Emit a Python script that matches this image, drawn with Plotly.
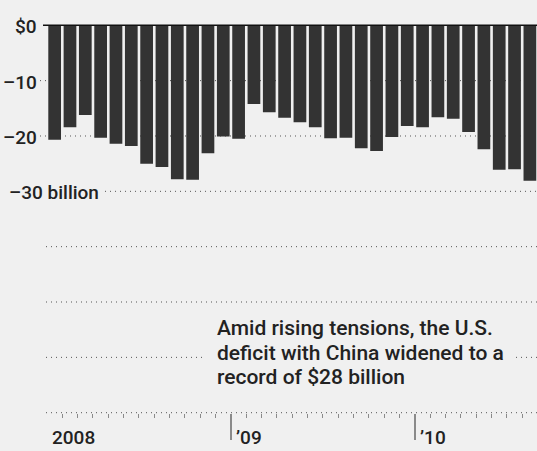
import plotly.graph_objects as go

# ---- data ----
months = [f"{m} {y}" for y in (2008, 2009, 2010) for m in
          ["Jan", "Feb", "Mar", "Apr", "May", "Jun", "Jul", "Aug", "Sep", "Oct", "Nov", "Dec"]][:32]
deficit = [-20.7, -18.4, -16.2, -20.3, -21.4, -21.8, -25.0, -25.6, -27.8, -27.9, -23.1, -20.1,
           -20.5, -14.2, -15.7, -16.7, -17.5, -18.4, -20.4, -20.3, -22.2, -22.7, -20.2, -18.2,
           -18.4, -16.6, -16.9, -19.3, -22.4, -26.1, -26.0, -28.1]
y_tick_vals = [0, -10, -20]
y_tick_labels = ["$0", "–10", "–20"]
y_last_val = -30
y_last_label = "–30 billion"
grid_levels = [-10, -20, -30, -40, -50, -60]
year_labels = ["2008", "’09", "’10"]
year_start_idx = [0, 12, 24]
note_lines = ["Amid rising tensions, the U.S.",
              "deficit with China widened to a",
              "record of $28 billion"]

# ---- layout geometry (pixels) ----
W, H = 537, 451
Y0_PX, Y70_PX = 25.7, 412.3
u = (Y70_PX - Y0_PX) / 70.0
YMIN, YMAX = -71.5, 1.5
top_m = Y0_PX - YMAX * u
bot_m = H - (Y70_PX + (-70 - YMIN) * u)
plot_h = H - top_m - bot_m
PITCH = 15.33
FIRST_C = 54.65
XR0 = -FIRST_C / PITCH
XR1 = XR0 + W / PITCH

BG = "#f0f0f0"
INK = "#222222"
FONT = "Roboto"

def px(x):
    return x / W

def py(ypx):
    return (H - bot_m - ypx) / plot_h

x_idx = list(range(len(months)))

fig = go.Figure()
fig.add_trace(go.Bar(x=x_idx, y=deficit, marker=dict(color="#333333", line=dict(width=0)),
                     customdata=months, hovertemplate="%{customdata}: $%{y}B<extra></extra>"))

shapes = []
grid_start = {-10: 40, -20: 40, -30: 40}
for g in grid_levels + [-70]:
    shapes.append(dict(type="line", xref="paper", yref="y", x0=px(grid_start.get(g, 46)), x1=1,
                       y0=g, y1=g, layer="below",
                       line=dict(color="#555555", width=1, dash="1px,4px")))
shapes.append(dict(type="line", xref="paper", yref="y", x0=px(43), x1=1, y0=0, y1=0,
                   layer="above", line=dict(color="#111111", width=1.5)))

ann = []
for v, t in zip(y_tick_vals, y_tick_labels):
    ann.append(dict(xref="paper", yref="y", x=px(38.5), y=v, text=t, showarrow=False,
                    xanchor="right", yanchor="middle", yshift=-1.5,
                    font=dict(family=FONT, size=19, color=INK, weight=500)))
ann.append(dict(xref="paper", yref="y", x=px(6), y=y_last_val, text=y_last_label, showarrow=False,
                xanchor="left", yanchor="middle", yshift=-1.5, bgcolor=BG, borderpad=2,
                font=dict(family=FONT, size=19, color=INK, weight=500)))
for i, t in zip(year_start_idx, year_labels):
    ann.append(dict(xref="x", yref="paper", x=i - 0.5, y=py(437), text=t, showarrow=False,
                    xanchor="left", yanchor="middle", xshift=3,
                    font=dict(family=FONT, size=19, color=INK, weight=500)))
note_y = [328, 352.5, 377]
# middle line first (its background masks the gridline), then the other two on top
for k in (1, 0, 2):
    masked = (k == 1)
    ann.append(dict(xref="paper", yref="paper", x=px(205), y=py(note_y[k]), text=note_lines[k],
                    showarrow=False, xanchor="left", yanchor="middle", align="left",
                    bgcolor=BG if masked else "rgba(0,0,0,0)",
                    borderpad=11 if masked else 0, borderwidth=1,
                    bordercolor=BG if masked else "rgba(0,0,0,0)",
                    xshift=0 if masked else 11,
                    font=dict(family=FONT, size=21, color=INK, weight=500)))

fig.update_layout(
    width=W, height=H, paper_bgcolor=BG, plot_bgcolor=BG,
    margin=dict(l=0, r=0, t=top_m, b=bot_m, pad=0, autoexpand=False),
    showlegend=False, bargap=0.17,
    shapes=shapes, annotations=ann,
    xaxis=dict(range=[XR0, XR1], anchor="free", position=(-70 - YMIN) / (YMAX - YMIN),
               showgrid=False, zeroline=False, showline=False, showticklabels=False,
               automargin=False, fixedrange=True,
               tickmode="array", tickvals=[i - 0.5 for i in year_start_idx[1:]],
               ticks="outside", ticklen=26, tickwidth=1.5, tickcolor="#8a8a8a",
               minor=dict(tickmode="array", tickvals=[i + 0.5 for i in range(len(months) - 1)],
                          ticks="outside", ticklen=4, tickwidth=1, tickcolor="#8a8a8a",
                          showgrid=False)),
    yaxis=dict(range=[YMIN, YMAX], showgrid=False, zeroline=False, showline=False,
               showticklabels=False, automargin=False, fixedrange=True, ticks=""),
)

fig.write_html("out.html", config={"displayModeBar": False},
               post_script="document.body.style.margin='0';document.body.style.background='#f0f0f0';")
